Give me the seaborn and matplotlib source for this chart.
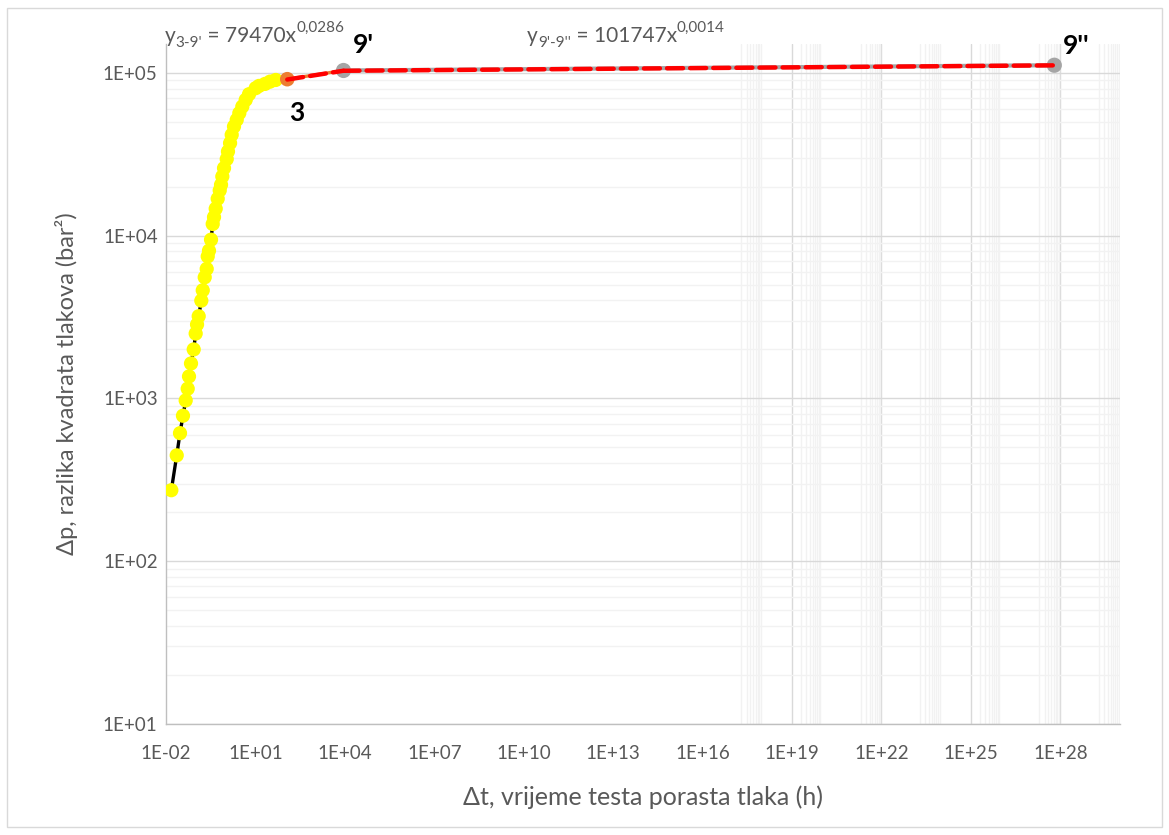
import numpy as np
import pandas as pd
import matplotlib
import matplotlib.pyplot as plt
import seaborn as sns
from matplotlib.patches import Rectangle
from matplotlib.ticker import FixedLocator, FuncFormatter, LogLocator, NullFormatter

matplotlib.use('Agg')

# ==========================================================
# DATA
# ==========================================================
early_t = [0.0151, 0.0229, 0.0295, 0.0371, 0.0458, 0.0535, 0.0591, 0.069, 0.085,
           0.099, 0.110, 0.125, 0.153, 0.171, 0.199, 0.232, 0.251, 0.277, 0.324,
           0.369, 0.408, 0.465, 0.543, 0.634, 0.701, 0.775, 0.884, 1.09, 1.20,
           1.41, 1.60, 1.91, 2.36, 2.88, 3.63, 4.72, 6.10, 10.2, 13.2, 21.0,
           30.9, 48.0]
early_dp = [273, 447, 612, 783, 972, 1148, 1365, 1640, 2000,
            2505, 2845, 3200, 3990, 4617, 5550, 6250, 7460, 8090, 9450,
            11800, 13000, 14650, 16870, 18970, 20550, 23100, 26000, 29550, 32900,
            37050, 41650, 46850, 51500, 56600, 62100, 68300, 74000, 80600, 83200, 85600,
            88400, 90500]

# series 3 -> 9'
seg1_t = [117, 9000]
seg1_dp = [91500, 103500]
# series 9' -> 9''
seg2_t = [9000, 6.3e27]
seg2_dp = [103500, 111500]

# power trendlines (straight on log-log), end points
trend1_t = [117, 9000]
trend1_dp = [91070, 103120]
trend2_t = [9000, 6.3e27]
trend2_dp = [103050, 111280]

point_names = ["3", "9'", "9''"]
point_t = [117, 9000, 6.3e27]
point_dp = [91500, 103500, 111500]

x_ticks = [10.0 ** e for e in range(-2, 29, 3)]
y_ticks = [1e1, 1e2, 1e3, 1e4, 1e5]

# ==========================================================
# STYLE
# ==========================================================
sns.set_theme(style="white")
plt.rcParams['font.family'] = ['Lato', 'DejaVu Sans']

TEXT = '#595959'
GRID_MAJOR = '#d9d9d9'
GRID_MINOR = '#f2f2f2'

fig = plt.figure(figsize=(11.69, 8.35), dpi=100)
ax = fig.add_axes([0.142, 0.133, 0.816, 0.814])
ax.set_xscale('log')
ax.set_yscale('log')
ax.set_xlim(1e-2, 1e30)
ax.set_ylim(10, 1.5e5)

# grid (vertical lines only show up in the far right part, like the original)
ax.yaxis.set_minor_locator(LogLocator(base=10, subs=np.arange(2, 10)))
ax.yaxis.set_minor_formatter(NullFormatter())
x_minor = [m * 10.0 ** k for k in range(17, 30, 2) for m in range(2, 10)]
ax.xaxis.set_minor_locator(FixedLocator(x_minor))
ax.xaxis.set_minor_formatter(NullFormatter())
ax.grid(which='minor', axis='both', color=GRID_MINOR, lw=1.0, zorder=0)
ax.grid(which='major', axis='y', color=GRID_MAJOR, lw=1.0, zorder=0)
for xv in x_ticks:
    if xv > 1e17:
        ax.axvline(xv, color=GRID_MAJOR, lw=1.0, zorder=0)

# ==========================================================
# SERIES
# ==========================================================
df_early = pd.DataFrame({"t": early_t, "dp": early_dp})
sns.lineplot(data=df_early, x="t", y="dp", color="black", lw=2.4,
             sort=False, estimator=None, ax=ax, zorder=2)
sns.scatterplot(data=df_early, x="t", y="dp", color="#ffff00", s=105,
                edgecolor="none", ax=ax, zorder=3)

sns.lineplot(x=seg1_t, y=seg1_dp, color="#ed7d31", lw=2.4, sort=False,
             estimator=None, ax=ax, zorder=2)
sns.lineplot(x=seg2_t, y=seg2_dp, color="#a5a5a5", lw=3.0, sort=False,
             estimator=None, ax=ax, zorder=2)

sns.scatterplot(x=point_t[:1], y=point_dp[:1], color="#ed7d31", s=110,
                edgecolor="none", ax=ax, zorder=4)
sns.scatterplot(x=point_t[1:], y=point_dp[1:], color="#a5a5a5", s=120,
                edgecolor="none", ax=ax, zorder=4)

for tx, ty in [(trend1_t, trend1_dp), (trend2_t, trend2_dp)]:
    ax.plot(tx, ty, color="#ff0000", lw=3.2, ls=(0, (3.6, 1.6)),
            dash_capstyle='round', zorder=5)

offsets = [(7, -24), (14, 18), (16, 14)]
for name, tx, ty, off in zip(point_names, point_t, point_dp, offsets):
    ax.annotate(name, xy=(tx, ty), xytext=off, textcoords='offset points',
                ha='center', va='center', fontsize=19, fontweight='bold',
                color='black', zorder=6)

# ==========================================================
# AXES / LABELS
# ==========================================================
ax.xaxis.set_major_locator(FixedLocator(x_ticks))
ax.yaxis.set_major_locator(FixedLocator(y_ticks))
fmt = FuncFormatter(lambda v, p: "1E{:+03d}".format(int(round(np.log10(v)))))
ax.xaxis.set_major_formatter(fmt)
ax.yaxis.set_major_formatter(fmt)
ax.tick_params(which='both', length=0, labelsize=13.5, colors=TEXT)
ax.tick_params(axis='x', pad=15)
ax.tick_params(axis='y', pad=6)

for side in ['top', 'right']:
    ax.spines[side].set_visible(False)
for side in ['left', 'bottom']:
    ax.spines[side].set_color('#bfbfbf')
    ax.spines[side].set_linewidth(1.0)

ax.set_xlabel("\u0394t, vrijeme testa porasta tlaka (h)", fontsize=18,
              color=TEXT, labelpad=17)
ax.set_ylabel("\u0394p, razlika kvadrata tlakova (bar\u00b2)", fontsize=17,
              color=TEXT, labelpad=18)


def equation(fig, x, y, parts):
    """Write text pieces one after the other (normal / sub / sup)."""
    sizes = {'n': 15, 'sub': 11, 'sup': 11}
    shift = {'n': 0, 'sub': -3, 'sup': 8}
    first = fig.text(x, y, parts[0][0], fontsize=sizes['n'], color=TEXT,
                     va='bottom', ha='left')
    prev = first
    for txt, kind in parts[1:]:
        prev = fig.axes[0].annotate(txt, xy=(1, 0), xycoords=(prev, first),
                                    xytext=(0, shift[kind]), textcoords='offset points',
                                    fontsize=sizes[kind], color=TEXT,
                                    va='bottom', ha='left', annotation_clip=False)
    return first


equation(fig, 0.141, 0.945, [("y", 'n'), ("3-9'", 'sub'), (" = 79470x", 'n'),
                             ("0,0286", 'sup')])
equation(fig, 0.451, 0.945, [("y", 'n'), ("9'-9''", 'sub'), (" = 101747x", 'n'),
                             ("0,0014", 'sup')])

fig.add_artist(Rectangle((0.006, 0.009), 0.988, 0.981, transform=fig.transFigure,
                         fill=False, edgecolor=GRID_MAJOR, lw=1.0))

fig.savefig("out.png", dpi=100)
